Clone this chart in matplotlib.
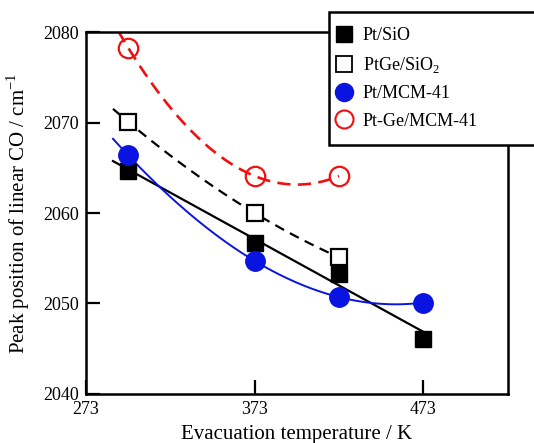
import numpy as np
import matplotlib
matplotlib.use("Agg")
import matplotlib.pyplot as plt
from matplotlib.lines import Line2D

# =========================
# data
# =========================
temp4 = [298, 373, 423, 473]
temp3 = [298, 373, 423]

pt_sio = [2064.7, 2056.7, 2053.3, 2046.1]
ptge_sio2 = [2070.1, 2060.0, 2055.1]
pt_mcm = [2066.4, 2054.7, 2050.7, 2050.1]
ptge_mcm = [2078.3, 2064.1, 2064.1]

labels = ["Pt/SiO", "PtGe/SiO$_\\mathregular{2}$", "Pt/MCM-41", "Pt-Ge/MCM-41"]

plt.rcParams["font.family"] = ["Liberation Serif", "DejaVu Serif"]
plt.rcParams["mathtext.fontset"] = "custom"
plt.rcParams["mathtext.rm"] = "Liberation Serif"

fig = plt.figure(figsize=(5.34, 4.43), dpi=100)
ax = fig.add_axes([0.161, 0.111, 0.790, 0.816])

BLUE = "#0a14e0"
RED = "#f01010"

# fitted guide curves
xa = np.linspace(289, 473, 200)
xb = np.linspace(289, 423, 200)
xr = np.linspace(292, 423, 200)
ax.plot(xa, np.polyval(np.polyfit(temp4, pt_sio, 1), xa), color="k", lw=1.6, zorder=2)
ax.plot(xb, np.polyval(np.polyfit(temp3, ptge_sio2, 2), xb), color="k", lw=1.6,
        ls=(0, (4.5, 3)), zorder=2)
ax.plot(xa, np.polyval(np.polyfit(temp4, pt_mcm, 3), xa), color=BLUE, lw=1.4, zorder=2)
ax.plot(xr, np.polyval(np.polyfit(temp3, ptge_mcm, 2), xr), color=RED, lw=1.9,
        ls=(0, (5, 2.8)), zorder=2)

# markers
ax.plot(temp4, pt_sio, ls="none", marker="s", ms=11.5, color="k", zorder=3)
ax.plot(temp3, ptge_sio2, ls="none", marker="s", ms=11, mfc="white", mec="k",
        mew=1.6, zorder=3)
ax.plot(temp4, pt_mcm, ls="none", marker="o", ms=14, color=BLUE, zorder=4)
ax.plot(temp3, ptge_mcm, ls="none", marker="o", ms=14, mfc="none", mec=RED,
        mew=1.6, zorder=4)

ax.set_xlim(273, 523)
ax.set_ylim(2040, 2080)
ax.set_xticks([273, 373, 473])
ax.set_yticks([2040, 2050, 2060, 2070, 2080])
ax.tick_params(direction="in", length=10, width=1.6, labelsize=13, pad=5)
for s in ax.spines.values():
    s.set_linewidth(1.8)

ax.set_xlabel("Evacuation temperature / K", fontsize=15, labelpad=5)
ax.set_ylabel("Peak position of linear CO / cm$^{\\mathregular{-1}}$", fontsize=15, labelpad=8)

handles = [
    Line2D([], [], ls="none", marker="s", ms=12, color="k"),
    Line2D([], [], ls="none", marker="s", ms=12, mfc="white", mec="k", mew=1.3),
    Line2D([], [], ls="none", marker="o", ms=13, color=BLUE),
    Line2D([], [], ls="none", marker="o", ms=13, mfc="none", mec=RED, mew=1.5),
]
leg = fig.legend(handles, labels, loc="upper left",
                 bbox_to_anchor=(329 / 534, 1 - 12 / 443, 0.40, 0), mode="expand",
                 borderaxespad=0, fontsize=13, frameon=True, fancybox=False,
                 edgecolor="k", framealpha=1, handlelength=0.0, handletextpad=1.02,
                 labelspacing=0.58, borderpad=0.85)
leg.get_frame().set_linewidth(1.8)

fig.savefig("out.png", dpi=100)
